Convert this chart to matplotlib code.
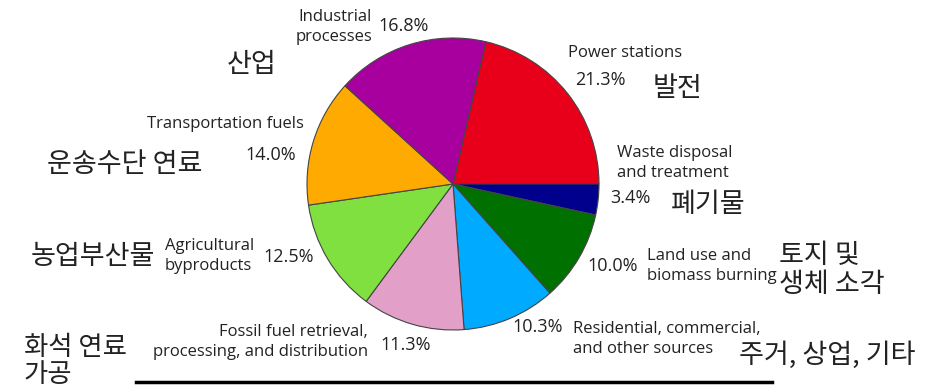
import matplotlib
matplotlib.use("Agg")
import matplotlib.pyplot as plt

categories = ["Power stations", "Waste disposal and treatment", "Land use and biomass burning",
              "Residential, commercial, and other sources", "Fossil fuel retrieval, processing, and distribution",
              "Agricultural byproducts", "Transportation fuels", "Industrial processes"]
values = [21.3, 3.4, 10.0, 10.3, 11.3, 12.5, 14.0, 16.8]
pct_labels = ["21.3%", "3.4%", "10.0%", "10.3%", "11.3%", "12.5%", "14.0%", "16.8%"]
korean = ["발전", "폐기물", "토지 및\n생체 소각", "주거, 상업, 기타", "화석 연료\n가공", "농업부산물", "운송수단 연료", "산업"]
colors = ["#e8001a", "#00008c", "#007000", "#00aaff", "#e2a0c8", "#80e040", "#ffaa00", "#a8009e"]

W, H = 944, 390
fig = plt.figure(figsize=(W / 100, H / 100), dpi=100)
ax = fig.add_axes([0, 0, 1, 1])
ax.pie(values, colors=colors, startangle=77, counterclock=False, center=(453, H - 184), radius=146,
       wedgeprops=dict(edgecolor="#444444", linewidth=0.8), frame=False)
ax.set_xlim(0, W)
ax.set_ylim(0, H)
ax.set_aspect("equal")
ax.axis("off")

EN = ["Open Sans", "DejaVu Sans"]
KR = ["Noto Sans CJK KR", "DejaVu Sans"]
NAR = ["Liberation Sans Narrow", "Open Sans", "DejaVu Sans"]

def t(x, y, s, size=12, fam=EN, ha="left", va="center", ls=1.4):
    ax.text(x, H - y, s, fontsize=size, family=fam, ha=ha, va=va, color="#222222", linespacing=ls)

# English labels
t(372, 27, "Industrial\nprocesses", ha="right")
t(568, 53, "Power stations")
t(147, 124, "Transportation fuels")
t(617, 163, "Waste disposal\nand treatment")
t(165, 256, "Agricultural\nbyproducts")
t(647, 266, "Land use and\nbiomass burning")
t(368, 342, "Fossil fuel retrieval,\nprocessing, and distribution", fam=NAR, size=12, ha="right", ls=1.4)
t(573, 339, "Residential, commercial,\nand other sources", fam=NAR, size=12, ls=1.4)

# percentages
PS = 13
t(378, 26, pct_labels[7], size=PS)
t(575, 80, pct_labels[0], size=PS)
t(245, 155, pct_labels[6], size=PS)
t(610, 198, pct_labels[1], size=PS)
t(263, 257, pct_labels[5], size=PS)
t(587, 266, pct_labels[2], size=PS)
t(380, 345, pct_labels[4], size=PS)
t(512, 327, pct_labels[3], size=PS)

# Korean labels
KS = 19.5
t(653, 88, korean[0], size=KS, fam=KR)
t(227, 65, korean[7], size=KS, fam=KR)
t(47, 164, korean[6], size=KS, fam=KR)
t(671, 205, korean[1], size=KS, fam=KR)
t(31, 257, korean[5], size=KS, fam=KR)
t(779, 270, korean[2], size=KS, fam=KR, ls=1.08)
t(24, 361, korean[4], size=19, fam=KR, ls=1.0)
t(739, 355, korean[3], size=KS, fam=KR)

ax.plot([136, 772], [H - 382, H - 382], color="black", lw=2.5)

fig.savefig("out.png", dpi=100)
